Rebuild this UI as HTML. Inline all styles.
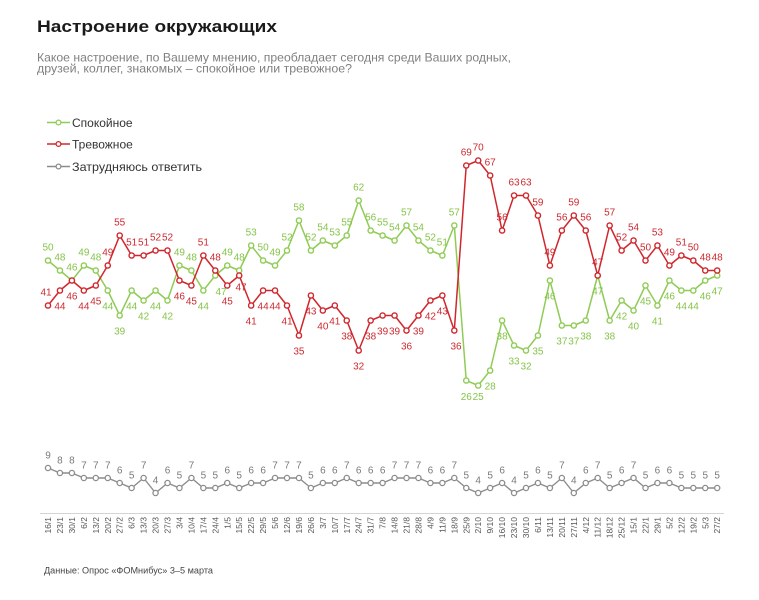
<!DOCTYPE html>
<html><head><meta charset="utf-8"><style>
html,body{margin:0;padding:0;background:#fff;}
svg{display:block;font-family:"Liberation Sans","DejaVu Sans",sans-serif;}
</style></head><body>
<svg width="759" height="600" viewBox="0 0 759 600" xmlns="http://www.w3.org/2000/svg">
<defs>
<marker id="mg" markerWidth="8" markerHeight="8" refX="4" refY="4" markerUnits="userSpaceOnUse"><circle cx="4" cy="4" r="2.6" fill="#fff" stroke="#8fcc55" stroke-width="1.4"/></marker>
<marker id="mr" markerWidth="8" markerHeight="8" refX="4" refY="4" markerUnits="userSpaceOnUse"><circle cx="4" cy="4" r="2.6" fill="#fff" stroke="#d0262c" stroke-width="1.4"/></marker>
<marker id="mx" markerWidth="8" markerHeight="8" refX="4" refY="4" markerUnits="userSpaceOnUse"><circle cx="4" cy="4" r="2.6" fill="#fff" stroke="#8c8c8c" stroke-width="1.3"/></marker>
</defs>

<text x="37" y="32" font-size="17" font-weight="bold" fill="#1a1a1a" textLength="240" lengthAdjust="spacingAndGlyphs">Настроение окружающих</text>
<text x="37" y="61.5" font-size="12" fill="#808080" textLength="474" lengthAdjust="spacingAndGlyphs">Какое настроение, по Вашему мнению, преобладает сегодня среди Ваших родных,</text>
<text x="37" y="72.5" font-size="12" fill="#808080" textLength="315" lengthAdjust="spacingAndGlyphs">друзей, коллег, знакомых – спокойное или тревожное?</text>

<!-- legend -->
<line x1="47" y1="122.5" x2="70" y2="122.5" stroke="#8fcc55" stroke-width="1.5"/>
<circle cx="58.5" cy="122.5" r="2.4" fill="#fff" stroke="#8fcc55" stroke-width="1.3"/>
<text x="72" y="127" font-size="12" fill="#333">Спокойное</text>
<line x1="47" y1="144" x2="70" y2="144" stroke="#d0262c" stroke-width="1.5"/>
<circle cx="58.5" cy="144" r="2.4" fill="#fff" stroke="#d0262c" stroke-width="1.3"/>
<text x="72" y="148.5" font-size="12" fill="#333">Тревожное</text>
<line x1="47" y1="166.5" x2="70" y2="166.5" stroke="#8c8c8c" stroke-width="1.5"/>
<circle cx="58.5" cy="166.5" r="2.4" fill="#fff" stroke="#8c8c8c" stroke-width="1.3"/>
<text x="72" y="171" font-size="12" fill="#333" textLength="130" lengthAdjust="spacingAndGlyphs">Затрудняюсь ответить</text>

<!-- green series -->
<polyline fill="none" stroke="#8fcc55" stroke-width="1.5" stroke-linejoin="round" marker-start="url(#mg)" marker-mid="url(#mg)" marker-end="url(#mg)" points="48,260.5 59.95,270.5 71.9,280.5 83.85,265.5 95.8,270.5 107.75,290.5 119.7,315.5 131.65,290.5 143.6,300.5 155.55,290.5 167.5,300.5 179.45,265.5 191.4,270.5 203.35,290.5 215.3,275.5 227.25,265.5 239.2,270.5 251.15,245.5 263.1,260.5 275.05,265.5 287,250.5 298.95,220.5 310.9,250.5 322.85,240.5 334.8,245.5 346.75,235.5 358.7,200.5 370.65,230.5 382.6,235.5 394.55,240.5 406.5,225.5 418.45,240.5 430.4,250.5 442.35,255.5 454.3,225.5 466.25,380.5 478.2,385.5 490.15,370.5 502.1,320.5 514.05,345.5 526,350.5 537.95,335.5 549.9,280.5 561.85,325.5 573.8,325.5 585.75,320.5 597.7,275.5 609.65,320.5 621.6,300.5 633.55,310.5 645.5,285.5 657.45,305.5 669.4,280.5 681.35,290.5 693.3,290.5 705.25,280.5 717.2,275.5"/>

<!-- red series -->
<polyline fill="none" stroke="#d0262c" stroke-width="1.5" stroke-linejoin="round" marker-start="url(#mr)" marker-mid="url(#mr)" marker-end="url(#mr)" points="48,305.5 59.95,290.5 71.9,280.5 83.85,290.5 95.8,285.5 107.75,265.5 119.7,235.5 131.65,255.5 143.6,255.5 155.55,250.5 167.5,250.5 179.45,280.5 191.4,285.5 203.35,255.5 215.3,270.5 227.25,285.5 239.2,275.5 251.15,305.5 263.1,290.5 275.05,290.5 287,305.5 298.95,335.5 310.9,295.5 322.85,310.5 334.8,305.5 346.75,320.5 358.7,350.5 370.65,320.5 382.6,315.5 394.55,315.5 406.5,330.5 418.45,315.5 430.4,300.5 442.35,295.5 454.3,330.5 466.25,165.5 478.2,160.5 490.15,175.5 502.1,230.5 514.05,195.5 526,195.5 537.95,215.5 549.9,265.5 561.85,230.5 573.8,215.5 585.75,230.5 597.7,275.5 609.65,225.5 621.6,250.5 633.55,240.5 645.5,260.5 657.45,245.5 669.4,265.5 681.35,255.5 693.3,260.5 705.25,270.5 717.2,270.5"/>

<!-- gray series -->
<polyline fill="none" stroke="#8c8c8c" stroke-width="1.4" stroke-linejoin="round" marker-start="url(#mx)" marker-mid="url(#mx)" marker-end="url(#mx)" points="48,468 59.95,473 71.9,473 83.85,478 95.8,478 107.75,478 119.7,483 131.65,488 143.6,478 155.55,493 167.5,483 179.45,488 191.4,478 203.35,488 215.3,488 227.25,483 239.2,488 251.15,483 263.1,483 275.05,478 287,478 298.95,478 310.9,488 322.85,483 334.8,483 346.75,478 358.7,483 370.65,483 382.6,483 394.55,478 406.5,478 418.45,478 430.4,483 442.35,483 454.3,478 466.25,488 478.2,493 490.15,488 502.1,483 514.05,493 526,488 537.95,483 549.9,488 561.85,478 573.8,493 585.75,483 597.7,478 609.65,488 621.6,483 633.55,478 645.5,488 657.45,483 669.4,483 681.35,488 693.3,488 705.25,488 717.2,488"/>

<!-- green labels -->
<g font-size="10" fill="#86c44a" text-anchor="middle">
<text x="48" y="250.5">50</text><text x="59.95" y="260.5">48</text><text x="71.9" y="270.5">46</text><text x="83.85" y="255.5">49</text><text x="95.8" y="260.5">48</text>
<text x="107.75" y="309.5">44</text><text x="119.7" y="334.5">39</text><text x="131.65" y="309.5">44</text><text x="143.6" y="319.5">42</text><text x="155.55" y="309.5">44</text>
<text x="167.5" y="319.5">42</text><text x="179.45" y="255.5">49</text><text x="191.4" y="260.5">48</text><text x="203.35" y="309.5">44</text><text x="221" y="295">47</text>
<text x="227.25" y="255.5">49</text><text x="239.2" y="260.5">48</text><text x="251.15" y="235.5">53</text><text x="263.1" y="250.5">50</text><text x="275.05" y="255.5">49</text>
<text x="287" y="240.5">52</text><text x="298.95" y="210.5">58</text><text x="310.9" y="240.5">52</text><text x="322.85" y="230.5">54</text><text x="334.8" y="235.5">53</text>
<text x="346.75" y="225.5">55</text><text x="358.7" y="190.5">62</text><text x="370.65" y="220.5">56</text><text x="382.6" y="225.5">55</text><text x="394.55" y="230.5">54</text>
<text x="406.5" y="215.5">57</text><text x="418.45" y="230.5">54</text><text x="430.4" y="240.5">52</text><text x="442.35" y="245.5">51</text><text x="454.3" y="215.5">57</text>
<text x="466.25" y="400">26</text><text x="478.2" y="400">25</text><text x="490.15" y="389.5">28</text><text x="502.1" y="339.5">38</text><text x="514.05" y="364.5">33</text>
<text x="526" y="369.5">32</text><text x="537.95" y="354.5">35</text><text x="549.9" y="299.5">46</text><text x="561.85" y="344.5">37</text><text x="573.8" y="344.5">37</text>
<text x="585.75" y="339.5">38</text><text x="597.7" y="294.5">47</text><text x="609.65" y="339.5">38</text><text x="621.6" y="319.5">42</text><text x="633.55" y="329.5">40</text>
<text x="645.5" y="304.5">45</text><text x="657.45" y="324.5">41</text><text x="669.4" y="299.5">46</text><text x="681.35" y="309.5">44</text><text x="693.3" y="309.5">44</text>
<text x="705.25" y="299.5">46</text><text x="717.2" y="294.5">47</text>
</g>

<!-- red labels -->
<g font-size="10" fill="#cc2a30" text-anchor="middle">
<text x="46" y="295.5">41</text><text x="59.95" y="309.5">44</text><text x="71.9" y="299.5">46</text><text x="83.85" y="309.5">44</text><text x="95.8" y="304.5">45</text>
<text x="107.75" y="255.5">49</text><text x="119.7" y="225.5">55</text><text x="131.65" y="245.5">51</text><text x="143.6" y="245.5">51</text><text x="155.55" y="240.5">52</text>
<text x="167.5" y="240.5">52</text><text x="179.45" y="299.5">46</text><text x="191.4" y="304.5">45</text><text x="203.35" y="245.5">51</text><text x="215.3" y="260.5">48</text>
<text x="227.25" y="304.5">45</text><text x="241" y="290.5">47</text><text x="251.15" y="324.5">41</text><text x="263.1" y="309.5">44</text><text x="275.05" y="309.5">44</text>
<text x="287" y="324.5">41</text><text x="298.95" y="354.5">35</text><text x="310.9" y="314.5">43</text><text x="322.85" y="329.5">40</text><text x="334.8" y="324.5">41</text>
<text x="346.75" y="339.5">38</text><text x="358.7" y="369.5">32</text><text x="370.65" y="339.5">38</text><text x="382.6" y="334.5">39</text><text x="394.55" y="334.5">39</text>
<text x="406.5" y="349.5">36</text><text x="418.45" y="334.5">39</text><text x="430.4" y="319.5">42</text><text x="442.35" y="314.5">43</text><text x="456" y="349.5">36</text>
<text x="466.25" y="155.5">69</text><text x="478.2" y="150.5">70</text><text x="490.15" y="165.5">67</text><text x="502.1" y="220.5">56</text><text x="514.05" y="185.5">63</text>
<text x="526" y="185.5">63</text><text x="537.95" y="205.5">59</text><text x="549.9" y="255.5">49</text><text x="561.85" y="220.5">56</text><text x="573.8" y="205.5">59</text>
<text x="585.75" y="220.5">56</text><text x="597.7" y="265.5">47</text><text x="609.65" y="215.5">57</text><text x="621.6" y="240.5">52</text><text x="633.55" y="230.5">54</text>
<text x="645.5" y="250.5">50</text><text x="657.45" y="235.5">53</text><text x="669.4" y="255.5">49</text><text x="681.35" y="245.5">51</text><text x="693.3" y="250.5">50</text>
<text x="705.25" y="260.5">48</text><text x="717.2" y="260.5">48</text>
</g>

<!-- gray labels -->
<g font-size="10" fill="#7a7a7a" text-anchor="middle">
<text x="48" y="458.5">9</text><text x="59.95" y="463.5">8</text><text x="71.9" y="463.5">8</text><text x="83.85" y="468.5">7</text><text x="95.8" y="468.5">7</text>
<text x="107.75" y="468.5">7</text><text x="119.7" y="473.5">6</text><text x="131.65" y="478.5">5</text><text x="143.6" y="468.5">7</text><text x="155.55" y="483.5">4</text>
<text x="167.5" y="473.5">6</text><text x="179.45" y="478.5">5</text><text x="191.4" y="468.5">7</text><text x="203.35" y="478.5">5</text><text x="215.3" y="478.5">5</text>
<text x="227.25" y="473.5">6</text><text x="239.2" y="478.5">5</text><text x="251.15" y="473.5">6</text><text x="263.1" y="473.5">6</text><text x="275.05" y="468.5">7</text>
<text x="287" y="468.5">7</text><text x="298.95" y="468.5">7</text><text x="310.9" y="478.5">5</text><text x="322.85" y="473.5">6</text><text x="334.8" y="473.5">6</text>
<text x="346.75" y="468.5">7</text><text x="358.7" y="473.5">6</text><text x="370.65" y="473.5">6</text><text x="382.6" y="473.5">6</text><text x="394.55" y="468.5">7</text>
<text x="406.5" y="468.5">7</text><text x="418.45" y="468.5">7</text><text x="430.4" y="473.5">6</text><text x="442.35" y="473.5">6</text><text x="454.3" y="468.5">7</text>
<text x="466.25" y="478.5">5</text><text x="478.2" y="483.5">4</text><text x="490.15" y="478.5">5</text><text x="502.1" y="473.5">6</text><text x="514.05" y="483.5">4</text>
<text x="526" y="478.5">5</text><text x="537.95" y="473.5">6</text><text x="549.9" y="478.5">5</text><text x="561.85" y="468.5">7</text><text x="573.8" y="483.5">4</text>
<text x="585.75" y="473.5">6</text><text x="597.7" y="468.5">7</text><text x="609.65" y="478.5">5</text><text x="621.6" y="473.5">6</text><text x="633.55" y="468.5">7</text>
<text x="645.5" y="478.5">5</text><text x="657.45" y="473.5">6</text><text x="669.4" y="473.5">6</text><text x="681.35" y="478.5">5</text><text x="693.3" y="478.5">5</text>
<text x="705.25" y="478.5">5</text><text x="717.2" y="478.5">5</text>
</g>

<!-- x axis -->
<line x1="40" y1="513.5" x2="724" y2="513.5" stroke="#d4d4d4" stroke-width="1"/>
<g font-size="8.5" fill="#555" text-anchor="end">
<text transform="translate(51,517) rotate(-90)">16/1</text>
<text transform="translate(62.95,517) rotate(-90)">23/1</text>
<text transform="translate(74.9,517) rotate(-90)">30/1</text>
<text transform="translate(86.85,517) rotate(-90)">6/2</text>
<text transform="translate(98.8,517) rotate(-90)">13/2</text>
<text transform="translate(110.75,517) rotate(-90)">20/2</text>
<text transform="translate(122.7,517) rotate(-90)">27/2</text>
<text transform="translate(134.65,517) rotate(-90)">6/3</text>
<text transform="translate(146.6,517) rotate(-90)">13/3</text>
<text transform="translate(158.55,517) rotate(-90)">20/3</text>
<text transform="translate(170.5,517) rotate(-90)">27/3</text>
<text transform="translate(182.45,517) rotate(-90)">3/4</text>
<text transform="translate(194.4,517) rotate(-90)">10/4</text>
<text transform="translate(206.35,517) rotate(-90)">17/4</text>
<text transform="translate(218.3,517) rotate(-90)">24/4</text>
<text transform="translate(230.25,517) rotate(-90)">1/5</text>
<text transform="translate(242.2,517) rotate(-90)">15/5</text>
<text transform="translate(254.15,517) rotate(-90)">22/5</text>
<text transform="translate(266.1,517) rotate(-90)">29/5</text>
<text transform="translate(278.05,517) rotate(-90)">5/6</text>
<text transform="translate(290,517) rotate(-90)">12/6</text>
<text transform="translate(301.95,517) rotate(-90)">19/6</text>
<text transform="translate(313.9,517) rotate(-90)">26/6</text>
<text transform="translate(325.85,517) rotate(-90)">3/7</text>
<text transform="translate(337.8,517) rotate(-90)">10/7</text>
<text transform="translate(349.75,517) rotate(-90)">17/7</text>
<text transform="translate(361.7,517) rotate(-90)">24/7</text>
<text transform="translate(373.65,517) rotate(-90)">31/7</text>
<text transform="translate(385.6,517) rotate(-90)">7/8</text>
<text transform="translate(397.55,517) rotate(-90)">14/8</text>
<text transform="translate(409.5,517) rotate(-90)">21/8</text>
<text transform="translate(421.45,517) rotate(-90)">28/8</text>
<text transform="translate(433.4,517) rotate(-90)">4/9</text>
<text transform="translate(445.35,517) rotate(-90)">11/9</text>
<text transform="translate(457.3,517) rotate(-90)">18/9</text>
<text transform="translate(469.25,517) rotate(-90)">25/9</text>
<text transform="translate(481.2,517) rotate(-90)">2/10</text>
<text transform="translate(493.15,517) rotate(-90)">9/10</text>
<text transform="translate(505.1,517) rotate(-90)">16/10</text>
<text transform="translate(517.05,517) rotate(-90)">23/10</text>
<text transform="translate(529,517) rotate(-90)">30/10</text>
<text transform="translate(540.95,517) rotate(-90)">6/11</text>
<text transform="translate(552.9,517) rotate(-90)">13/11</text>
<text transform="translate(564.85,517) rotate(-90)">20/11</text>
<text transform="translate(576.8,517) rotate(-90)">27/11</text>
<text transform="translate(588.75,517) rotate(-90)">4/12</text>
<text transform="translate(600.7,517) rotate(-90)">11/12</text>
<text transform="translate(612.65,517) rotate(-90)">18/12</text>
<text transform="translate(624.6,517) rotate(-90)">25/12</text>
<text transform="translate(636.55,517) rotate(-90)">15/1</text>
<text transform="translate(648.5,517) rotate(-90)">22/1</text>
<text transform="translate(660.45,517) rotate(-90)">29/1</text>
<text transform="translate(672.4,517) rotate(-90)">5/2</text>
<text transform="translate(684.35,517) rotate(-90)">12/2</text>
<text transform="translate(696.3,517) rotate(-90)">19/2</text>
<text transform="translate(708.25,517) rotate(-90)">5/3</text>
<text transform="translate(720.2,517) rotate(-90)">27/2</text>
</g>

<text x="44" y="573.5" font-size="9" fill="#444" textLength="169" lengthAdjust="spacingAndGlyphs">Данные: Опрос «ФОМнибус» 3–5 марта</text>
</svg>
</body></html>
